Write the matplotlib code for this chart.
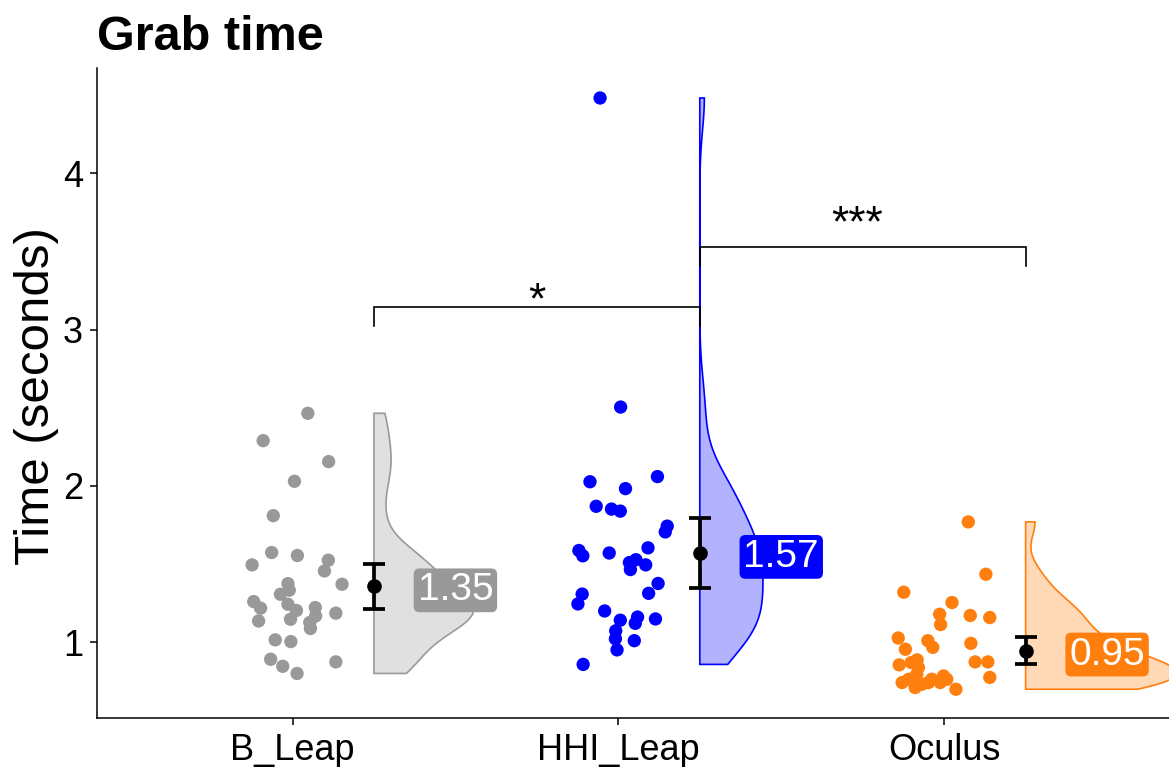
import numpy as np
import matplotlib
matplotlib.use("Agg")
import matplotlib.pyplot as plt
from matplotlib.patches import Polygon

plt.rcParams['font.family'] = ['Liberation Sans', 'DejaVu Sans']

# ---------------- data ----------------
categories = ["B_Leap", "HHI_Leap", "Oculus"]

b_leap_time = [2.465, 2.29, 2.156, 2.03, 1.81, 1.574, 1.555, 1.495, 1.525, 1.456,
               1.371, 1.375, 1.333, 1.307, 1.26, 1.218, 1.136, 1.243, 1.203, 1.147,
               1.222, 1.168, 1.126, 1.088, 1.186, 1.015, 1.004, 0.891, 0.846, 0.80, 0.874]
b_leap_jitter = [0.047, -0.090, 0.111, 0.006, -0.059, -0.064, 0.015, -0.124, 0.110, 0.098,
                 0.152, -0.014, -0.010, -0.037, -0.119, -0.098, -0.104, -0.014, 0.012, -0.006,
                 0.070, 0.071, 0.053, 0.055, 0.133, -0.053, -0.005, -0.067, -0.030, 0.014, 0.133]

hhi_leap_time = [4.483, 2.505, 2.027, 1.983, 2.06, 1.87, 1.852, 1.839, 1.743, 1.706,
                 1.587, 1.553, 1.571, 1.604, 1.51, 1.528, 1.495, 1.465, 1.376, 1.313,
                 1.308, 1.245, 1.20, 1.141, 1.161, 1.121, 1.149, 1.073, 1.022, 0.951,
                 1.01, 0.858]
hhi_leap_jitter = [-0.056, 0.007, -0.087, 0.022, 0.120, -0.068, -0.021, 0.006, 0.150, 0.144,
                   -0.121, -0.109, -0.028, 0.091, 0.034, 0.054, 0.084, 0.037, 0.122, 0.093,
                   -0.111, -0.124, -0.042, 0.006, 0.059, 0.052, 0.114, -0.008, -0.009, -0.004,
                   0.049, -0.108]

oculus_time = [1.770, 1.435, 1.32, 1.254, 1.179, 1.113, 1.171, 1.158, 1.027, 1.010,
               0.967, 0.955, 0.993, 0.874, 0.874, 0.775, 0.855, 0.870, 0.887, 0.838,
               0.795, 0.742, 0.763, 0.710, 0.731, 0.742, 0.763, 0.742, 0.784, 0.763, 0.699]
oculus_jitter = [0.074, 0.128, -0.124, 0.024, -0.014, -0.011, 0.080, 0.140, -0.141, -0.050,
                 -0.035, -0.119, 0.082, 0.095, 0.134, 0.140, -0.138, -0.101, -0.083, -0.079,
                 -0.084, -0.129, -0.109, -0.089, -0.068, -0.048, -0.038, -0.012, -0.002, 0.008, 0.036]

means = [1.357, 1.571, 0.946]
ci_half = [0.142, 0.227, 0.088]
mean_labels = ["1.35", "1.57", "0.95"]

comparisons = [(0, 1, 3.143, "*"), (1, 2, 3.527, "***")]
y_ticks = [1, 2, 3, 4]

# ---------------- style ----------------
point_colors = ["#999999", "#0000FF", "#FF7F0E"]
fill_alpha = 0.3
nudge = 0.25
label_nudge = 0.5
violin_scale = 0.306  # width of the B_Leap violin at its peak (x units)
star_offsets = [(0, -4.4), (-4.3, 7.8)]  # text offsets in points

groups_time = [b_leap_time, hhi_leap_time, oculus_time]
groups_jit = [b_leap_jitter, hhi_leap_jitter, oculus_jitter]


def kde(vals, n_grid=512):
    v = np.asarray(vals, dtype=float)
    n = len(v)
    sd = v.std(ddof=1)
    q75, q25 = np.percentile(v, [75, 25])
    bw = 0.9 * min(sd, (q75 - q25) / 1.34) * n ** -0.2
    grid = np.linspace(v.min(), v.max(), n_grid)
    dens = np.exp(-0.5 * ((grid[:, None] - v[None, :]) / bw) ** 2).sum(1) / (n * bw * np.sqrt(2 * np.pi))
    return grid, dens


fig = plt.figure(figsize=(11.69, 7.67), dpi=100)
ax = fig.add_axes([97 / 1169, 1 - 718 / 767, 1 - 97 / 1169, (718 - 68) / 767])

dens_all = [kde(t) for t in groups_time]
k = violin_scale / dens_all[0][1].max()

for i, (vals, jit) in enumerate(zip(groups_time, groups_jit)):
    pos = i + 1
    col = point_colors[i]
    # jittered points
    ax.scatter(pos + np.asarray(jit), vals, s=92, color=col, edgecolors='none', zorder=3)
    # half violin
    grid, dens = dens_all[i]
    x0 = pos + nudge
    verts = [(x0, grid[0])] + list(zip(x0 + k * dens, grid)) + [(x0, grid[-1])]
    poly = Polygon(verts, closed=True, facecolor=matplotlib.colors.to_rgba(col, fill_alpha),
                   edgecolor=col, linewidth=1.2, zorder=2)
    ax.add_patch(poly)
    # mean + CI
    ax.errorbar([x0], [means[i]], yerr=[ci_half[i]], fmt='o', color='black', ms=9.5,
                elinewidth=2.7, capsize=8, capthick=2.7, zorder=5)
    # label
    ax.annotate(mean_labels[i], xy=(pos + label_nudge, means[i]), xytext=(0, -10),
                textcoords='offset points', ha='center', va='baseline', fontsize=28,
                color='white', zorder=6,
                bbox=dict(boxstyle='round,pad=0.1,rounding_size=0.15', facecolor=col,
                          edgecolor='none'))

# significance brackets
tip = 0.12
for (a, b, yb, txt), (dx, dy) in zip(comparisons, star_offsets):
    xa, xb = a + 1 + nudge, b + 1 + nudge
    ax.plot([xa, xa, xb, xb], [yb - tip, yb, yb, yb - tip], color='black', lw=1.2,
            zorder=7, solid_joinstyle='miter')
    ax.annotate(txt, xy=((xa + xb) / 2, yb), xytext=(dx, dy), textcoords='offset points',
                ha='center', va='baseline', fontsize=32, zorder=7)

ax.set_xlim(0.4, 3.69)
ax.set_ylim(0.515, 4.675)
ax.set_xticks([1, 2, 3])
ax.set_xticklabels(categories)
ax.set_yticks(y_ticks)
ax.tick_params(axis='both', labelsize=26, length=5, width=1.1, color='black', labelcolor='black')
ax.tick_params(axis='x', pad=6)
ax.tick_params(axis='y', pad=5)
for s in ['top', 'right']:
    ax.spines[s].set_visible(False)
for s in ['left', 'bottom']:
    ax.spines[s].set_linewidth(1.1)
    ax.spines[s].set_color('black')

fig.text(97 / 1169, 1 - 50 / 767, "Grab time", fontsize=35, fontweight='bold',
         ha='left', va='baseline')
fig.text(37 / 1169, 1 - 396 / 767, "Time (seconds)", fontsize=35.5, rotation=90,
         ha='center', va='center')

fig.savefig("out.png", dpi=100, facecolor='white')
